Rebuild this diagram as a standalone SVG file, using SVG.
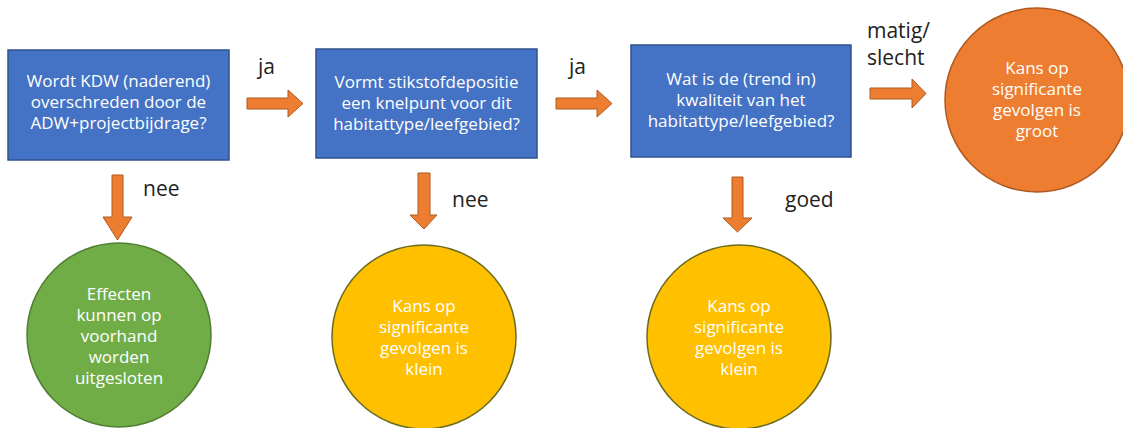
<svg xmlns="http://www.w3.org/2000/svg" width="1123" height="428" viewBox="0 0 1123 428">
<style>
.box{fill:#4472C4;stroke:#2F528F;stroke-width:1.5}
.arrow{fill:#ED7D31;stroke:#AE5A21;stroke-width:1}
.nt{font-family:"Open Sans","Noto Sans",sans-serif;font-size:17px;fill:#ffffff;text-anchor:middle}
.lbl{font-family:"Open Sans","Noto Sans",sans-serif;font-size:21px;fill:#222222}
.green{fill:#70AD47;stroke:#507E32;stroke-width:1.5}
.yellow{fill:#FFC000;stroke:#6B6B20;stroke-width:1.5}
.orange{fill:#ED7D31;stroke:#AE5A21;stroke-width:1.5}
</style>
<rect width="1123" height="428" fill="#ffffff"/>
<g id="q1">
<rect class="box" x="8" y="50" width="221" height="110"/>
<text class="nt" x="118.5"><tspan x="118.5" y="87">Wordt KDW (naderend)</tspan><tspan x="118.5" y="108">overschreden door de</tspan><tspan x="118.5" y="129">ADW+projectbijdrage?</tspan></text>
</g>
<g id="q2">
<rect class="box" x="316" y="49" width="221" height="109"/>
<text class="nt" x="426.5"><tspan x="426.5" y="88">Vormt stikstofdepositie</tspan><tspan x="426.5" y="109">een knelpunt voor dit</tspan><tspan x="426.5" y="130">habitattype/leefgebied?</tspan></text>
</g>
<g id="q3">
<rect class="box" x="631" y="45" width="220" height="112"/>
<text class="nt" x="741"><tspan x="741" y="85">Wat is de (trend in)</tspan><tspan x="741" y="106">kwaliteit van het</tspan><tspan x="741" y="127">habitattype/leefgebied?</tspan></text>
</g>
<g id="groot">
<circle class="orange" cx="1037" cy="100" r="92"/>
<text class="nt" x="1037"><tspan x="1037" y="74">Kans op</tspan><tspan x="1037" y="95">significante</tspan><tspan x="1037" y="116">gevolgen is</tspan><tspan x="1037" y="137">groot</tspan></text>
</g>
<g id="uitgesloten">
<circle class="green" cx="119" cy="335" r="92"/>
<text class="nt" x="119"><tspan x="119" y="300">Effecten</tspan><tspan x="119" y="321">kunnen op</tspan><tspan x="119" y="342">voorhand</tspan><tspan x="119" y="363">worden</tspan><tspan x="119" y="384">uitgesloten</tspan></text>
</g>
<g id="klein1">
<circle class="yellow" cx="424" cy="337" r="92"/>
<text class="nt" x="424"><tspan x="424" y="312">Kans op</tspan><tspan x="424" y="333">significante</tspan><tspan x="424" y="354">gevolgen is</tspan><tspan x="424" y="375">klein</tspan></text>
</g>
<g id="klein2">
<circle class="yellow" cx="739" cy="337" r="92"/>
<text class="nt" x="739"><tspan x="739" y="312">Kans op</tspan><tspan x="739" y="333">significante</tspan><tspan x="739" y="354">gevolgen is</tspan><tspan x="739" y="375">klein</tspan></text>
</g>
<g id="connectors">
<path class="arrow" d="M247,98 H288 V90 L303,103.5 L288,117 V109 H247 Z"/>
<path class="arrow" d="M556,98 H597 V90 L612,103.5 L597,117 V109 H556 Z"/>
<path class="arrow" d="M870,88 H912 V79 L926,93.5 L912,108 V99 H870 Z"/>
<path class="arrow" d="M112,175 H123 V217 H132 L117.5,240 L103,217 H112 Z"/>
<path class="arrow" d="M418,173 H430 V215 H437 L424,229 L410,215 H418 Z"/>
<path class="arrow" d="M732,177 H743 V218 H752 L737.5,232 L723,218 H732 Z"/>
<text class="lbl" x="258" y="74">ja</text>
<text class="lbl" x="569" y="74">ja</text>
<text class="lbl" x="867" y="38">matig/</text>
<text class="lbl" x="867" y="65">slecht</text>
<text class="lbl" x="143" y="196">nee</text>
<text class="lbl" x="452" y="207">nee</text>
<text class="lbl" x="785" y="207">goed</text>
</g>
</svg>
